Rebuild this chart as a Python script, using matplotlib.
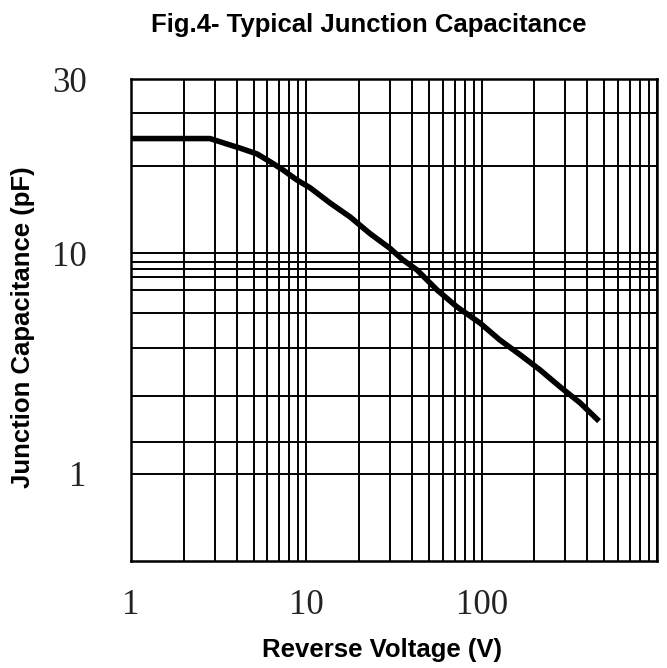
import numpy as np
import matplotlib
matplotlib.use('Agg')
import matplotlib.pyplot as plt
from matplotlib.ticker import NullLocator, FixedLocator

# curve: reverse voltage (V) vs junction capacitance (pF)
voltage = [1, 2.82, 3.53, 4.18, 5.23, 6.21, 7.36, 8.85, 10.5, 13.7, 17.8, 23.1,
           30.0, 35.6, 42.8, 55.7, 72.4, 97.9, 127, 166, 215, 280, 364, 455]
capacitance = [20.6, 20.6, 19.9, 19.4, 18.7, 17.8, 16.9, 15.85, 15.1, 13.7, 12.55, 11.3,
               10.3, 9.3, 8.38, 6.80, 5.70, 4.82, 4.04, 3.46, 2.96, 2.48, 2.10, 1.77]

# grid of the original sheet
x_grid = [k * 10 ** d for d in range(3) for k in range(1, 10)] + [1000]
y_grid = [1, 1.40, 2.25, 3.72, 5.35, 6.80, 7.79, 8.47, 9.1, 10, 17.3, 24.2]
x_ticks = [1, 10, 100]
x_labels = ['1', '10', '100']
y_ticks = [1, 10, 30]
y_labels = ['1', '10', '30']

# the printed y axis is stretched above 10 pF
K = 1.65

def fwd(y):
    u = np.log10(np.clip(np.asarray(y, dtype=float), 1e-6, None))
    return np.where(u <= 1, u, 1 + (u - 1) * K)

def inv(p):
    p = np.asarray(p, dtype=float)
    return np.where(p <= 1, 10 ** p, 10 ** (1 + (p - 1) / K))

fig = plt.figure(figsize=(6.67, 6.68), dpi=100)
ax = fig.add_axes([0.1964, 0.1602, 0.7886, 0.7215])

ax.set_xscale('log')
ax.set_yscale('function', functions=(fwd, inv))
ax.set_xlim(1, 1000)
ax.set_ylim(0.404, 30)

# grid lines
ax.vlines(x_grid, 0.404, 30, colors='black', linewidth=1.4, zorder=1)
ax.hlines(y_grid, 1, 1000, colors='black', linewidth=1.4, zorder=1)

ax.plot(voltage, capacitance, color='black', linewidth=4.0, zorder=3)

ax.xaxis.set_major_locator(FixedLocator(x_ticks))
ax.xaxis.set_minor_locator(NullLocator())
ax.set_xticklabels(x_labels)
ax.yaxis.set_major_locator(FixedLocator(y_ticks))
ax.yaxis.set_minor_locator(NullLocator())
ax.set_yticklabels(y_labels)

for lbl in ax.get_xticklabels() + ax.get_yticklabels():
    lbl.set_fontfamily('Liberation Serif')
    lbl.set_fontsize(25)
    lbl.set_color('#222222')
ax.tick_params(axis='x', length=0, pad=20)
ax.tick_params(axis='y', length=0, pad=32)

for s in ax.spines.values():
    s.set_linewidth(1.8)
    s.set_color('black')

label_font = dict(family='Liberation Sans', size=18.5, weight='bold')
ax.set_title('Fig.4- Typical Junction Capacitance', x=0.452, pad=34, **label_font)
ax.set_xlabel('Reverse Voltage (V)', x=0.477, labelpad=12, **label_font)
ax.set_ylabel('Junction Capacitance (pF)', y=0.485, labelpad=12, **label_font)

fig.savefig('out.png', dpi=100, facecolor='white')
